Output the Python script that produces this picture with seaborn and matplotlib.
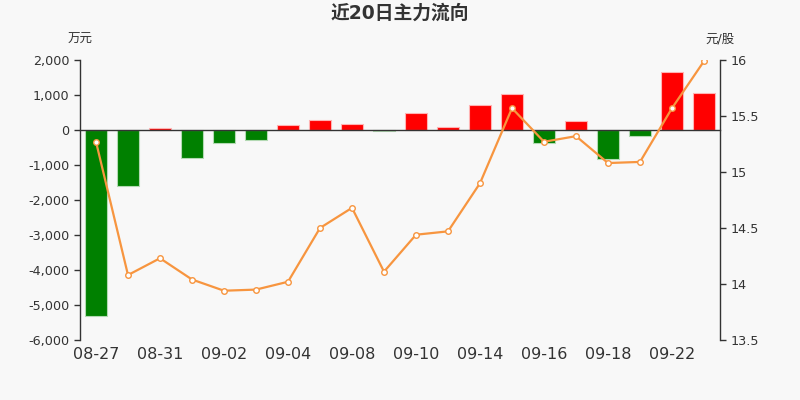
import numpy as np
import pandas as pd
import seaborn as sns
import matplotlib.pyplot as plt
from matplotlib.ticker import FixedLocator, FuncFormatter

sns.set_style('white')
plt.rcParams['font.family'] = ['DejaVu Sans', 'Noto Sans CJK SC']
plt.rcParams['axes.unicode_minus'] = False

# 데이터 ==========================================
dates = ['08-27', '08-28', '08-31', '09-01', '09-02', '09-03', '09-04', '09-07', '09-08', '09-09',
         '09-10', '09-11', '09-14', '09-15', '09-16', '09-17', '09-18', '09-21', '09-22', '09-23']
flow = [-5310, -1600, 60, -800, -360, -290, 150, 275, 180, -35,
        475, 95, 720, 1020, -360, 250, -830, -180, 1655, 1055]   # 万元
price = [15.27, 14.08, 14.23, 14.04, 13.94, 13.95, 14.02, 14.50, 14.68, 14.11,
         14.44, 14.47, 14.90, 15.57, 15.27, 15.32, 15.08, 15.09, 15.57, 15.99]  # 元/股

df = pd.DataFrame({'date': dates, 'flow': flow, 'price': price})
df['sign'] = np.where(df['flow'] >= 0, 'in', 'out')
df['pos'] = np.arange(len(df))

bg = '#f8f8f8'
txt = '#333333'
orange = '#f7953f'

fig = plt.figure(figsize=(8, 4), dpi=100, facecolor=bg)
ax = fig.add_axes([0.1, 0.15, 0.8, 0.7], facecolor=bg)

# 막대 그래프
sns.barplot(data=df, x='date', y='flow', hue='sign', palette={'in': '#ff0000', 'out': '#008000'},
            dodge=False, legend=False, width=0.7, saturation=1, ax=ax)
for p in ax.patches:
    r, g, b, _ = p.get_facecolor()
    p.set_edgecolor((r + (1 - r) * 0.7, g + (1 - g) * 0.7, b + (1 - b) * 0.7))
    p.set_linewidth(0.8)

ax.set_ylim(-6000, 2000)
ax.set_xlim(-0.5, len(dates) - 0.5)
ax.set_yticks(np.arange(-6000, 2001, 1000))
ax.yaxis.set_major_formatter(FuncFormatter(lambda v, _: f'{int(v):,}'))
ax.set_xlabel('')
ax.set_ylabel('')

# x축은 0 위치에, 라벨은 아래쪽
ax.spines['bottom'].set_position(('data', 0))
ax.spines['top'].set_visible(False)
ax.spines['right'].set_visible(False)
for s in ['bottom', 'left']:
    ax.spines[s].set_color(txt)
    ax.spines[s].set_linewidth(1)
ax.set_xticks(df['pos'][::2])
ax.set_xticklabels(df['date'][::2])
ax.xaxis.set_minor_locator(FixedLocator(np.arange(1.5, len(dates) - 1, 2)))
ax.tick_params(axis='x', which='major', length=0, pad=156, labelsize=11.5, colors=txt)
ax.tick_params(axis='x', which='minor', length=4, width=1, color=txt, direction='out')
ax.tick_params(axis='y', length=4, width=1, color=txt, labelsize=9.2, labelcolor=txt, direction='out', left=True)

# 가격 선 그래프
ax2 = ax.twinx()
sns.lineplot(data=df, x='pos', y='price', ax=ax2, color=orange, lw=1.6, marker='o', markersize=4,
             markerfacecolor='white', markeredgecolor=orange, markeredgewidth=1)
ax2.set_ylim(13.5, 16)
ax2.set_yticks(np.arange(13.5, 16.01, 0.5))
ax2.yaxis.set_major_formatter(FuncFormatter(lambda v, _: f'{v:g}'))
ax2.set_ylabel('')
ax2.set_xlabel('')
for s in ['top', 'left', 'bottom']:
    ax2.spines[s].set_visible(False)
ax2.spines['right'].set_color(txt)
ax2.spines['right'].set_linewidth(1)
ax2.tick_params(axis='y', length=4, width=1, color=txt, labelsize=9.2, labelcolor=txt, direction='out', right=True)

fig.text(0.5, 0.967, '近20日主力流向', ha='center', va='center', fontsize=13.5, fontweight='bold', color=txt)
fig.text(0.1, 0.902, '万元', ha='center', va='center', fontsize=9, color=txt)
fig.text(0.9, 0.902, '元/股', ha='center', va='center', fontsize=9, color=txt)

fig.savefig('out.png', dpi=100, facecolor=bg)
